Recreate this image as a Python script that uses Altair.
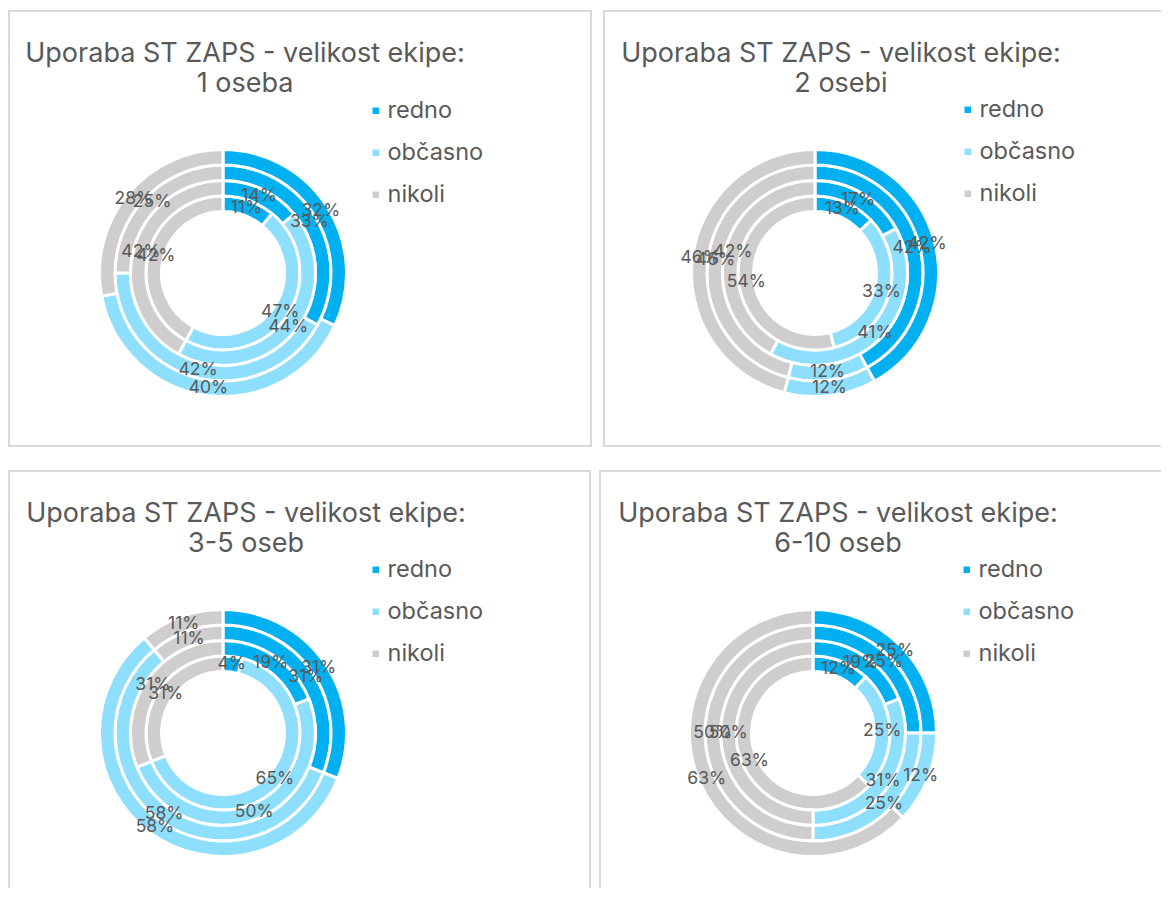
import math
import altair as alt
import pandas as pd

categories = ["redno", "občasno", "nikoli"]
colors = ["#00B0F0", "#8DDFFD", "#CFCDCD"]
title_line = "Uporaba ST ZAPS - velikost ekipe:"
panel_names = ["1 oseba", "2 osebi", "3-5 oseb", "6-10 oseb"]

# share (%) per ring, innermost ring first; order: redno, občasno, nikoli
v_1_oseba = [[11, 47, 42], [14, 44, 42], [33, 42, 25], [32, 40, 28]]
v_2_osebi = [[13, 33, 54], [17, 41, 42], [42, 12, 46], [42, 12, 46]]
v_3_5_oseb = [[4, 65, 31], [19, 50, 31], [31, 58, 11], [31, 58, 11]]
v_6_10_oseb = [[12, 25, 63], [19, 31, 50], [25, 25, 50], [25, 12, 63]]

panel_values = [v_1_oseba, v_2_osebi, v_3_5_oseb, v_6_10_oseb]

rows = []
for pname, rings in zip(panel_names, panel_values):
    for ri, ring in enumerate(rings):
        for ci, (cat, val) in enumerate(zip(categories, ring)):
            rows.append({"panel": pname, "ring": ri, "category": cat, "idx": ci, "value": val})
df = pd.DataFrame(rows)

title_df = pd.DataFrame(
    {"panel": panel_names, "title": [title_line + "\n" + n for n in panel_names]}
)

FONT = "Inter"
TXT = "#595959"
BORDER = "#D9D9D9"

# layout per panel: (width, height, center x, center y, title x, legend x, legend y,
#                    border runs off right edge, border runs off bottom edge)
layout = [
    (584, 437, 215, 263, 237, 356, 89, False, False),
    (558, 437, 212, 263, 238, 353, 88, True, False),
    (583, 418, 215, 263, 238, 356, 88, False, True),
    (562, 418, 214, 263, 239, 356, 88, True, True),
]


def panel(i):
    name = panel_names[i]
    w, h, cx, cy, tx, lx, ly, open_r, open_b = layout[i]
    theta_scale = alt.Scale(domain=[0, 100], range=[0, 2 * math.pi])
    r_scale = alt.Scale(type="linear", domain=[0, 4], range=[61.5, 123.5], zero=False)
    one = alt.Chart(title_df).transform_filter(alt.datum.panel == name)
    frame = one.mark_rect(fill="white", stroke=BORDER, strokeWidth=2, clip=True).encode(
        x=alt.value(1),
        y=alt.value(1),
        x2=alt.value(w + 6 if open_r else w - 1),
        y2=alt.value(h + 6 if open_b else h - 1),
    )
    base = (
        alt.Chart(df)
        .transform_filter(alt.datum.panel == name)
        .transform_window(cum="sum(value)", sort=[alt.SortField("idx")], groupby=["ring"])
        .transform_calculate(
            start="datum.cum - datum.value",
            mid="datum.cum - datum.value / 2",
            r_in="datum.ring",
            r_out="datum.ring + 1",
            r_mid="datum.ring + 0.5",
            label="datum.value + '%'",
        )
    )
    arcs = base.mark_arc(x=cx, y=cy, stroke="white", strokeWidth=3).encode(
        theta=alt.Theta("start:Q", scale=theta_scale, stack=False),
        theta2="cum:Q",
        radius=alt.Radius("r_out:Q", scale=r_scale),
        radius2="r_in:Q",
        color=alt.Color(
            "category:N",
            scale=alt.Scale(domain=categories, range=colors),
            legend=alt.Legend(
                orient="none",
                legendX=lx,
                legendY=ly,
                title=None,
                symbolType="square",
                symbolSize=42,
                symbolStrokeWidth=0,
                labelFontSize=23.5,
                labelFont=FONT,
                labelColor=TXT,
                labelOffset=0,
                rowPadding=17,
                padding=0,
            ),
        ),
        order=alt.Order("idx:Q"),
    )
    labels = base.mark_text(x=cx, y=cy, fontSize=17.5, font=FONT, color=TXT).encode(
        theta=alt.Theta("mid:Q", scale=theta_scale, stack=False),
        radius=alt.Radius("r_mid:Q", scale=r_scale),
        text="label:N",
    )
    title = one.mark_text(
        x=tx, y=52, align="center", baseline="alphabetic", lineBreak="\n",
        lineHeight=30, fontSize=27, font=FONT, color=TXT,
    ).encode(text="title:N")
    return alt.layer(frame, arcs, labels, title).properties(width=w, height=h)


row1 = (
    alt.hconcat(panel(0), panel(1), spacing=11)
    .resolve_scale(color="independent")
    .resolve_legend(color="independent")
)
row2 = (
    alt.hconcat(panel(2), panel(3), spacing=8)
    .resolve_scale(color="independent")
    .resolve_legend(color="independent")
)
chart = (
    alt.vconcat(row1, row2, spacing=23)
    .resolve_scale(color="independent")
    .resolve_legend(color="independent")
    .properties(padding={"top": 2, "left": 0, "right": 0, "bottom": 0}, background="white")
    .configure_view(stroke=None)
)

chart.save("out.html", embed_options={"renderer": "svg", "actions": False})
